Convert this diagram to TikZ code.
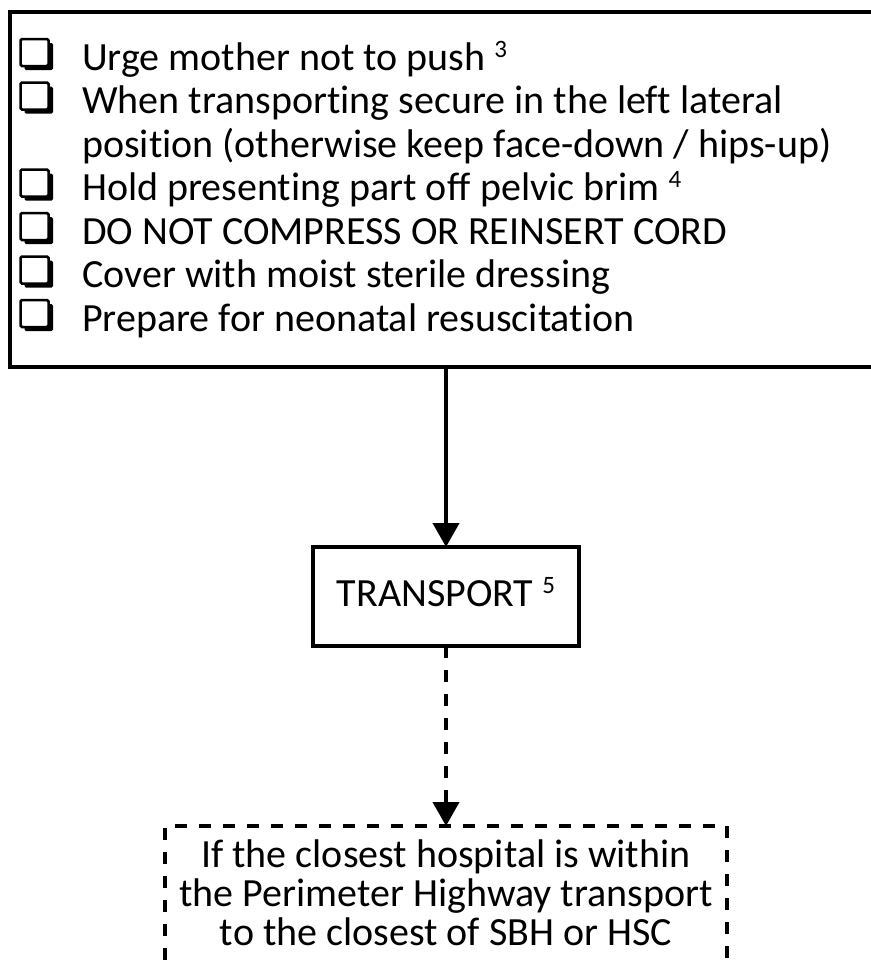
\documentclass[tikz,border=0pt]{standalone}
\usepackage{fontspec}
\setmainfont{Carlito}[Ligatures=NoCommon]
\usetikzlibrary{arrows.meta,positioning}
\newcommand\refnum[1]{\raisebox{13pt}{\fontsize{25}{25}\selectfont #1}}

\begin{document}
\begin{tikzpicture}[x=1pt,y=-1pt,>={Triangle[width=26pt,length=24pt]},
  font=\fontsize{40}{44}\selectfont,
  box/.style={draw,line width=4pt,inner sep=0pt,outer sep=0pt},
  tickline/.style={draw,line width=2.5pt,fill=white,rounded corners=1.5pt},
  item/.style={anchor=base west,inner sep=0pt}]
  \useasboundingbox (0,0) rectangle (870,969);

  \node[box,anchor=north west,minimum width=872pt,minimum height=355pt]
    (checklist) at (10,12) {};

  % check boxes with a heavy shadow
  \foreach \y in {70,113.5,200.5,244,287.5,331} {
    \fill[rounded corners=1.5pt] (24.5,\y-27) rectangle (53,\y);
    \path[tickline] (20.5,\y-31) rectangle (48.5,\y-4);
  }
  \node[item] (urge) at (82,70) {Urge mother not to push \refnum{3}};
  \node[item] (lateral) at (82,113.5) {When transporting secure in the left lateral};
  \node[item] (lateral2) at (82,157) {position (otherwise keep face-down / hips-up)};
  \node[item] (brim) at (82,200.5) {Hold presenting part off pelvic brim \refnum{4}};
  \node[item] (cord) at (82,244) {DO NOT COMPRESS OR REINSERT CORD};
  \node[item] (dressing) at (82,287.5) {Cover with moist sterile dressing};
  \node[item] (resus) at (82,331) {Prepare for neonatal resuscitation};

  \node[box,line width=3.5pt,minimum width=266pt,minimum height=99pt,
    text height=30pt,text depth=10pt,below=180pt of checklist]
    (transport) {TRANSPORT \refnum{5}};

  \node[box,dash pattern=on 12pt off 12pt,minimum width=562pt,
    minimum height=170pt,below=180pt of transport] (closest) {};
  \node[align=center,inner sep=0pt,anchor=north,
    font=\fontsize{40}{39}\selectfont] (closesttext) at (446,840)
    {If the closest hospital is within\\the Perimeter Highway transport\\to the closest of SBH or HSC};

  \draw[->,line width=4pt] (checklist.south) -- (transport.north);
  \draw[->,line width=4pt,dash pattern=on 12pt off 12pt] (transport.south) -- (closest.north);
\end{tikzpicture}
\end{document}
